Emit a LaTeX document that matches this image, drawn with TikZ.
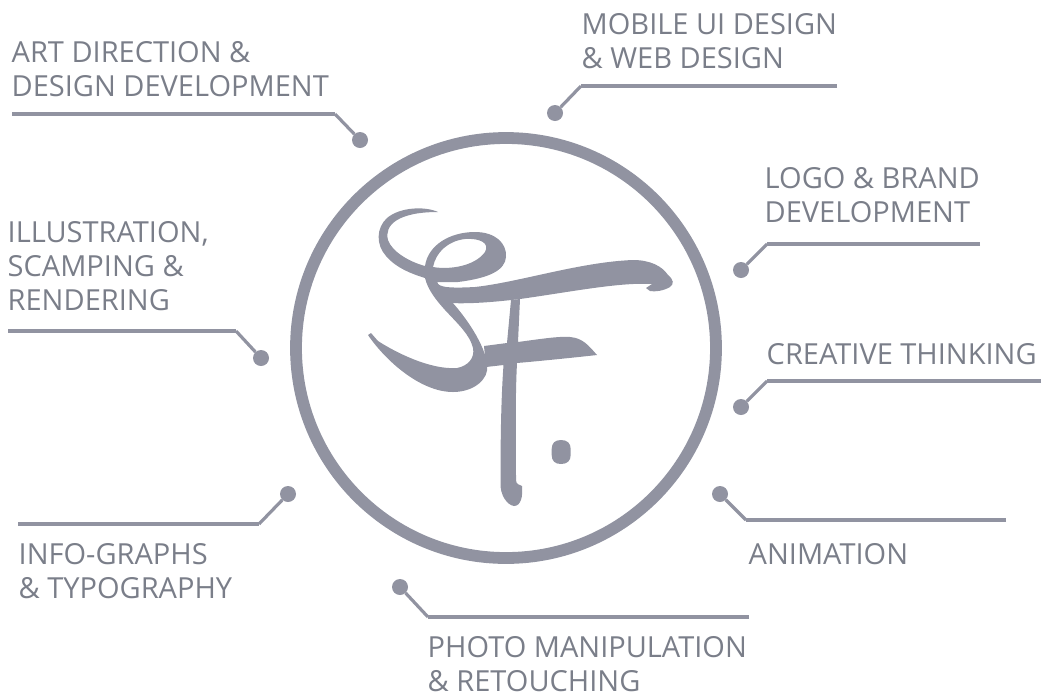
\documentclass[tikz,border=0pt]{standalone}
\usepackage{fontspec}
\setmainfont{Open Sans}
\definecolor{ink}{HTML}{9193A1}
\definecolor{txt}{HTML}{7A7E89}
\tikzset{
  lead/.style={draw=ink,line width=3.8pt,line join=miter},
  stub/.style={draw=ink,line width=3.2pt},
  pin/.style={circle,fill=ink,inner sep=0pt,minimum size=16pt},
  lab/.style={anchor=north west,align=left,inner sep=0pt,text=txt,font=\fontsize{29pt}{34pt}\selectfont},
  logo/.style={fill=ink,draw=none}
}
\begin{document}
\begin{tikzpicture}[x=1pt,y=-1pt]
\useasboundingbox (0,0) rectangle (1043,697);
\node[circle,draw=ink,line width=11.8pt,minimum size=420pt,inner sep=0pt] (ring) at (506,348) {};
% logo
\path[logo] (438,212) .. controls (425,206) and (400,207) .. (387,218) .. controls (376,228) and (376,245) .. (386,256) .. controls (396,268) and (412,274) .. (425,278)
 .. controls (428,290) and (436,300) .. (445,310) .. controls (458,324) and (470,335) .. (473,348) .. controls (475,358) and (468,366) .. (457,368)
 .. controls (430,370) and (395,352) .. (378,341) -- (371,333) -- (368,335) .. controls (385,360) and (420,392) .. (453,392) .. controls (475,392) and (489,378) .. (487,366)
 .. controls (487,350) and (470,322) .. (452,302) -- (438,284) -- (433,267) -- (425,266)
 .. controls (410,262) and (392,252) .. (388,240) .. controls (384,225) and (398,212) .. (438,212) -- cycle;
\path[logo,even odd rule] (425,266) .. controls (428,245) and (450,232) .. (475,232) .. controls (495,232) and (507,243) .. (506,257) .. controls (505,270) and (490,278) .. (458,282) -- (437,282) -- (425,275) -- cycle
 (433,267) .. controls (450,270) and (475,266) .. (485,252) .. controls (490,243) and (480,238) .. (465,239) .. controls (448,241) and (436,252) .. (433,267) -- cycle;
\path[logo] (438,284) .. controls (442,288) and (455,288) .. (475,287) .. controls (520,282) and (580,262) .. (633,260) .. controls (650,260) and (662,266) .. (668,275) .. controls (674,280) and (674,284) .. (670,287) .. controls (663,291) and (655,292) .. (650,291) -- (646,288) -- (652,284) .. controls (620,282) and (570,292) .. (520,299) .. controls (495,302) and (470,304) .. (450,303) -- (436,290) -- cycle;
\path[logo] (511,300) -- (520,299) -- (518,342) .. controls (540,339) and (560,336) .. (570,337) .. controls (583,338) and (589,346) .. (597,355) .. controls (570,358) and (540,361) .. (517,363) .. controls (515,400) and (516,450) .. (516,480) .. controls (516,484) and (519,485) .. (522,486) .. controls (523,496) and (521,506) .. (514,506) .. controls (507,505) and (500,495) .. (500.5,483) .. controls (500.5,440) and (501,400) .. (503.5,365) -- (486,367) -- (484,346) -- (507,343) -- cycle;
\path[logo] (551.7,449) .. controls (551.7,443) and (555,440) .. (561,440) .. controls (567,440) and (570.7,443) .. (570.7,449) -- (570.7,455) .. controls (570.7,461) and (567,464) .. (561,464) .. controls (555,464) and (551.7,461) .. (551.7,455) -- cycle;
% pins
\node[pin] (p1) at (360,140) {};
\coordinate (k1) at (335,114); \coordinate (e1) at (12,114);
\draw[lead] (e1) -- (k1); \draw[stub] (k1) -- (p1);
\node[pin] (p2) at (555,113) {};
\coordinate (k2) at (581,86); \coordinate (e2) at (837,86);
\draw[lead] (e2) -- (k2); \draw[stub] (k2) -- (p2);
\node[pin] (p3) at (741,270) {};
\coordinate (k3) at (767,244); \coordinate (e3) at (980,244);
\draw[lead] (e3) -- (k3); \draw[stub] (k3) -- (p3);
\node[pin] (p4) at (741,407) {};
\coordinate (k4) at (767,381); \coordinate (e4) at (1041,381);
\draw[lead] (e4) -- (k4); \draw[stub] (k4) -- (p4);
\node[pin] (p5) at (720,494) {};
\coordinate (k5) at (746,520); \coordinate (e5) at (1006,520);
\draw[lead] (e5) -- (k5); \draw[stub] (k5) -- (p5);
\node[pin] (p6) at (400,587) {};
\coordinate (k6) at (428,617); \coordinate (e6) at (749,617);
\draw[lead] (e6) -- (k6); \draw[stub] (k6) -- (p6);
\node[pin] (p7) at (288,494) {};
\coordinate (k7) at (259,524); \coordinate (e7) at (18,524);
\draw[lead] (e7) -- (k7); \draw[stub] (k7) -- (p7);
\node[pin] (p8) at (261,358) {};
\coordinate (k8) at (236,331); \coordinate (e8) at (8,331);
\draw[lead] (e8) -- (k8); \draw[stub] (k8) -- (p8);
% labels
\node[lab] (t1) at (11.5,41) {ART DIRECTION \&\\DESIGN DEVELOPMENT};
\node[lab] (t2) at (581.5,13) {MOBILE UI DESIGN\\\& WEB DESIGN};
\node[lab] (t3) at (764.5,167) {LOGO \& BRAND\\DEVELOPMENT};
\node[lab] (t4) at (766.5,343) {CREATIVE THINKING};
\node[lab] (t5) at (748.5,543) {ANIMATION};
\node[lab] (t6) at (427.5,636) {PHOTO MANIPULATION\\\& RETOUCHING};
\node[lab] (t7) at (18.5,543) {INFO-GRAPHS\\\& TYPOGRAPHY};
\node[lab] (t8) at (7.5,221) {ILLUSTRATION,\\SCAMPING \&\\RENDERING};
\end{tikzpicture}
\end{document}
